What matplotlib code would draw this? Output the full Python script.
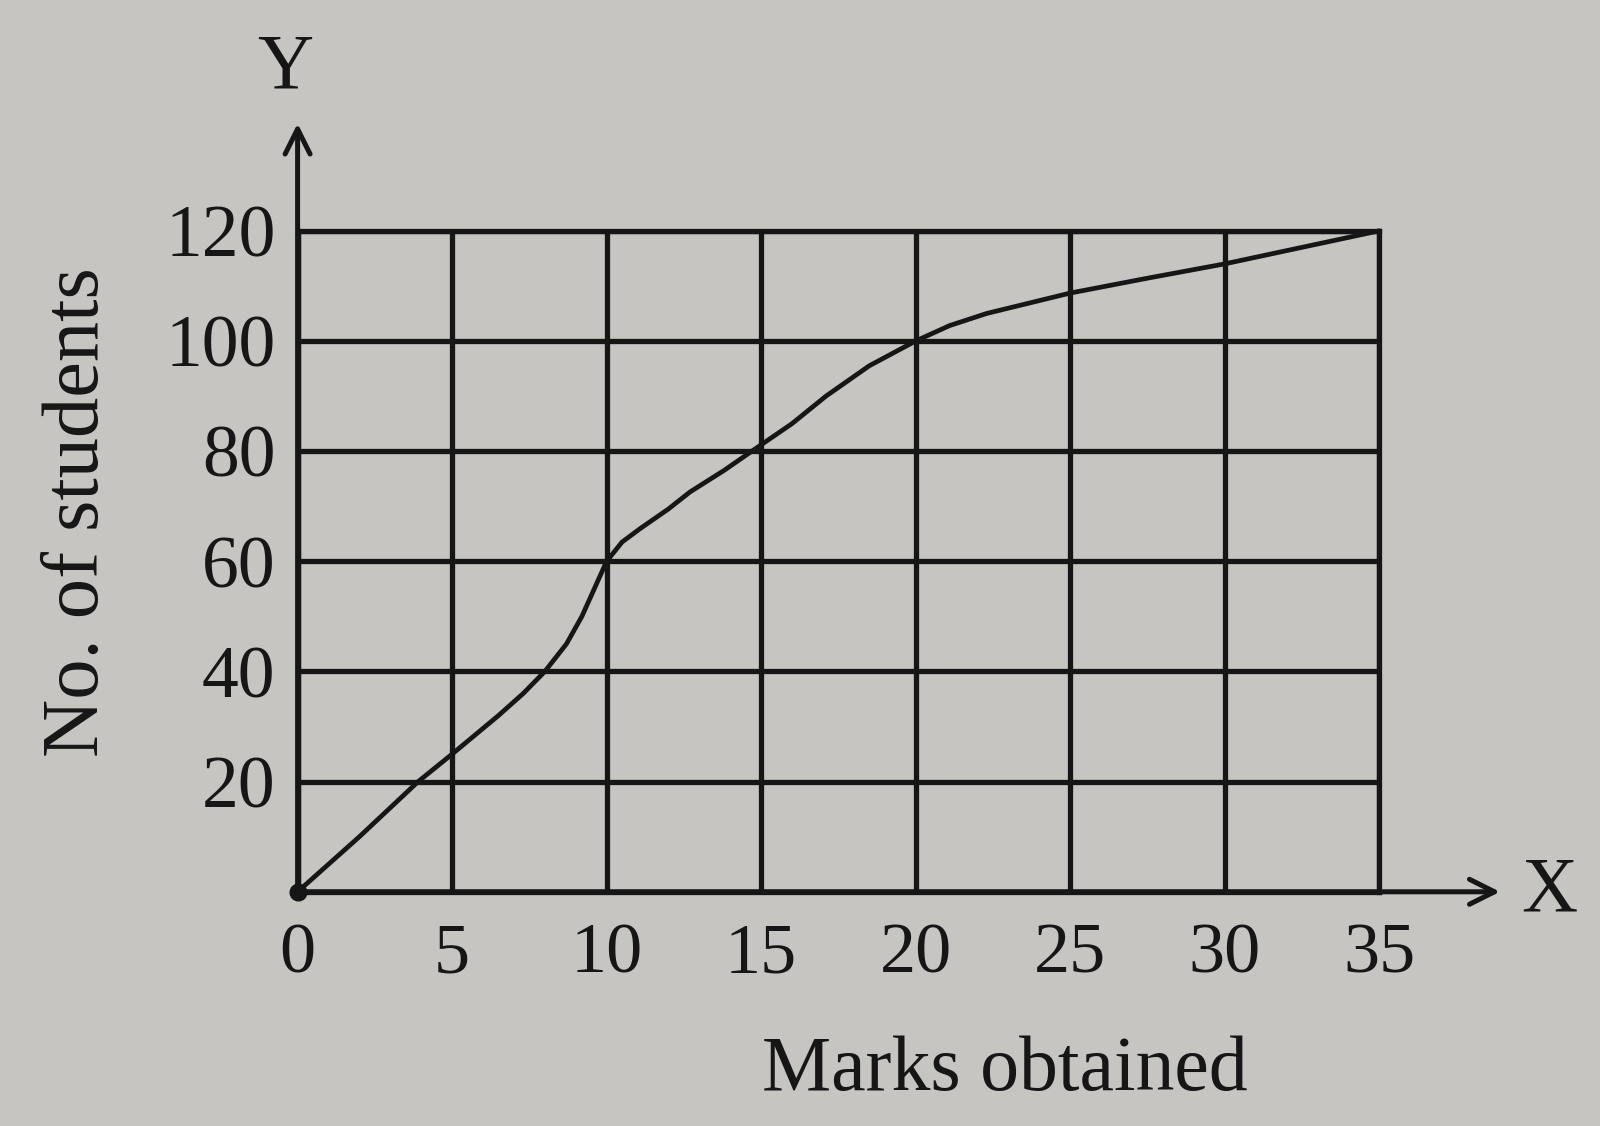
import matplotlib.pyplot as plt

# ogive: marks obtained vs cumulative no. of students
marks = [0, 2, 3.9, 5, 6.5, 7.3, 8, 8.7, 9.2, 9.6, 10, 10.5, 11.1, 12, 12.7,
         13.8, 14.7, 16, 17.1, 18.5, 20, 21.1, 22.3, 25, 27.5, 30, 32.5, 35]
students = [0, 10, 20, 25, 32, 36, 40, 45, 50, 55, 60, 63.5, 66, 69.5, 72.6,
            76.5, 80, 85, 90, 95.5, 100, 102.8, 105, 108.7, 111.4, 114, 117, 120]

x_ticks = [0, 5, 10, 15, 20, 25, 30, 35]
y_ticks = [0, 20, 40, 60, 80, 100, 120]
y_tick_labels = ["", "20", "40", "60", "80", "100", "120"]

paper = "#c7c5c2"
ink = "#161616"

plt.rcParams['font.family'] = ['Liberation Serif', 'DejaVu Serif']

fig = plt.figure(figsize=(16, 11.26), dpi=100, facecolor=paper)
ax = fig.add_axes([0.186, 0.208, 0.676, 0.587])
ax.set_facecolor(paper)

ax.set_xlim(0, 35)
ax.set_ylim(0, 120)
ax.set_xticks(x_ticks)
ax.set_yticks(y_ticks)
ax.set_xticklabels([str(v) for v in x_ticks], fontsize=52, color=ink)
ax.set_yticklabels(y_tick_labels, fontsize=53, color=ink)
ax.tick_params(length=0, pad=16)
ax.tick_params(axis='x', pad=22)

# heavy printed grid
ax.grid(True, color=ink, linewidth=3.8)
for side in ['left', 'right', 'top', 'bottom']:
    ax.spines[side].set_color(ink)
    ax.spines[side].set_linewidth(3.8)

# the curve and the dot at the origin
ax.plot(marks, students, color=ink, linewidth=3.4, solid_joinstyle='round',
        solid_capstyle='round', clip_on=False, zorder=5)
ax.plot([marks[0]], [students[0]], 'o', color=ink, markersize=12, clip_on=False, zorder=6)

# axis arrows
arrow = dict(arrowstyle='->', color=ink, lw=3.6, mutation_scale=45)
ax.annotate('', xy=(0, 140), xytext=(0, 0), arrowprops=arrow, annotation_clip=False)
ax.annotate('', xy=(39, 0), xytext=(0, 0), arrowprops=arrow, annotation_clip=False)
ax.text(-0.4, 143, 'Y', fontsize=56, color=ink, ha='center', va='bottom', clip_on=False)
ax.text(39.6, 0, 'X', fontsize=56, color=ink, ha='left', va='center', clip_on=False)

# axis titles
ax.text(-7.1, 69, 'No. of students', fontsize=58, color=ink, rotation=90,
        ha='center', va='center', clip_on=False)
ax.text(22.9, -32.5, 'Marks obtained', fontsize=56, color=ink,
        ha='center', va='center', clip_on=False)

fig.savefig('out.png', dpi=100, facecolor=paper)
